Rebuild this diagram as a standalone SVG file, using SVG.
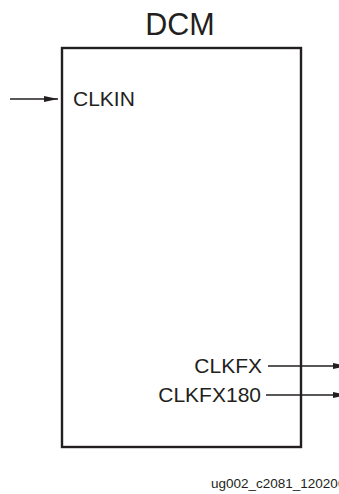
<svg xmlns="http://www.w3.org/2000/svg" width="339" height="494" viewBox="0 0 339 494">
<style>
text{font-family:"Liberation Sans",Arial,sans-serif;fill:#231f20}
.lbl{font-size:21px}
.wire{stroke:#231f20;stroke-width:1.3;fill:none}
</style>
<defs>
<marker id="ah" markerWidth="14" markerHeight="6" refX="14" refY="3" orient="auto" markerUnits="userSpaceOnUse">
<path d="M0,0 L14,3 L0,6 Z" fill="#231f20"/>
</marker>
</defs>
<g id="dcm">
<rect x="62" y="48" width="239" height="399" fill="#fff" stroke="#231f20" stroke-width="2.4"/>
<text x="180" y="35" font-size="30.5" text-anchor="middle">DCM</text>
<text class="lbl" x="73" y="106">CLKIN</text>
<text class="lbl" x="262" y="373" text-anchor="end">CLKFX</text>
<text class="lbl" x="261" y="402" text-anchor="end">CLKFX180</text>
</g>
<g id="connectors">
<line class="wire" x1="10" y1="99" x2="58" y2="99" marker-end="url(#ah)"/>
<line class="wire" x1="268" y1="366" x2="347" y2="366" marker-end="url(#ah)"/>
<line class="wire" x1="266" y1="395" x2="347" y2="395" marker-end="url(#ah)"/>
</g>
<text x="211" y="488" font-size="13.5">ug002_c2081_120200</text>
</svg>
